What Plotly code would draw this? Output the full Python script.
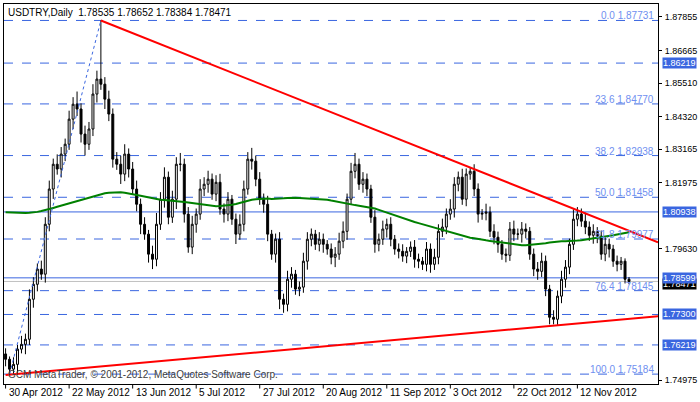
import plotly.graph_objects as go

title_text = "USDTRY,Daily  1.78535 1.78652 1.78384 1.78471"
copyright_text = "GCM MetaTrader, © 2001-2012, MetaQuotes Software Corp."

closes = [1.7571,1.7536,1.7553,1.7607,1.7624,1.7642,1.7784,1.7837,1.7891,1.7873,
1.8050,1.8175,1.8263,1.8246,1.8299,1.8334,1.8423,1.8476,1.8459,1.8370,
1.8334,1.8388,1.8512,1.8565,1.8547,1.8494,1.8441,1.8281,1.8263,1.8228,
1.8299,1.8246,1.8175,1.8121,1.8050,1.8015,1.7944,1.7926,1.8050,1.8139,
1.8217,1.8075,1.8139,1.8263,1.8263,1.8086,1.7969,1.8050,1.8086,1.8175,
1.8192,1.8210,1.8157,1.8199,1.8104,1.8086,1.8139,1.8068,1.8015,1.8050,
1.8175,1.8281,1.8274,1.8210,1.8139,1.8121,1.8015,1.7944,1.7997,1.7784,
1.7766,1.7855,1.7873,1.7820,1.7827,1.7919,1.7997,1.8015,1.7979,1.7997,
1.7979,1.7962,1.7933,1.7944,1.7990,1.8025,1.8139,1.8238,1.8263,1.8192,
1.8210,1.8175,1.8075,1.7979,1.7997,1.8033,1.8050,1.7997,1.7962,1.7954,
1.7937,1.7954,1.7969,1.7926,1.7919,1.7908,1.7962,1.7908,1.7933,1.8025,
1.8040,1.8086,1.8104,1.8192,1.8217,1.8139,1.8228,1.8238,1.8175,1.8086,
1.8089,1.8093,1.8025,1.8004,1.7979,1.7944,1.7940,1.8033,1.8015,1.8015,
1.8033,1.8025,1.7944,1.7891,1.7883,1.7919,1.7820,1.7720,1.7713,1.7795,
1.7855,1.7898,1.7979,1.8068,1.8086,1.8061,1.8040,1.8011,1.8025,1.8008,
1.7944,1.7979,1.7962,1.7919,1.7908,1.7919,1.7855,1.78471]
first_open = 1.7590
# wick lengths in pips (0.0001)
upper_wick = [20,10,25,15,30,20,35,25,20,30,
25,30,20,35,25,20,30,25,45,20,
30,25,35,30,208,25,30,20,25,30,
35,20,25,30,20,25,15,30,40,25,
35,20,30,25,40,20,25,30,20,35,
25,30,20,25,30,20,25,15,20,35,
30,25,40,20,25,20,30,15,20,25,
20,30,25,15,20,30,25,20,15,25,
20,15,20,25,30,35,20,30,40,20,
25,20,15,25,20,30,20,25,15,20,
25,15,20,25,20,15,25,20,30,25,
30,20,35,25,20,30,20,15,25,20,
15,30,20,25,20,15,20,25,30,20,
25,20,15,20,25,30,20,15,25,20,
30,25,20,35,25,20,30,20,25,15,
20,25,20,15,20,15,10,8]
lower_wick = [25,18,20,30,15,35,20,30,25,20,
30,25,35,20,30,25,20,35,25,30,
40,20,25,30,20,35,25,30,20,35,
25,30,20,25,35,20,30,35,25,20,
30,25,20,35,25,30,20,25,30,20,
25,30,20,25,20,30,25,20,35,20,
25,20,30,25,20,30,25,20,30,35,
30,25,30,20,25,20,30,25,20,25,
30,20,25,35,20,25,30,20,25,20,
30,25,20,30,25,20,30,25,20,25,
20,25,20,30,25,20,25,30,20,25,
20,25,20,30,25,20,25,20,25,30,
20,25,20,25,30,20,25,20,25,20,
30,25,20,25,30,20,25,25,18,20,
25,30,25,20,25,20,25,20,30,25,
20,25,30,20,25,20,15,10]

ma_values = [1.8093,1.8092,1.8091,1.8090,1.8090,1.8090,1.8091,1.8092,1.8094,1.8097,
1.8100,1.8104,1.8108,1.8112,1.8116,1.8120,1.8124,1.8128,1.8132,1.8136,
1.8140,1.8144,1.8148,1.8152,1.8157,1.8160,1.8162,1.8163,1.8164,1.8164,
1.8162,1.8160,1.8157,1.8154,1.8151,1.8148,1.8145,1.8141,1.8139,1.8137,
1.8136,1.8135,1.8133,1.8132,1.8131,1.8129,1.8127,1.8125,1.8122,1.8120,
1.8118,1.8116,1.8114,1.8114,1.8115,1.8116,1.8117,1.8119,1.8122,1.8126,
1.8130,1.8134,1.8137,1.8139,1.8140,1.8141,1.8141,1.8140,1.8140,1.8141,
1.8142,1.8143,1.8144,1.8144,1.8143,1.8142,1.8141,1.8140,1.8140,1.8139,
1.8139,1.8137,1.8134,1.8131,1.8128,1.8125,1.8122,1.8120,1.8118,1.8116,
1.8114,1.8112,1.8110,1.8106,1.8101,1.8096,1.8091,1.8086,1.8081,1.8076,
1.8071,1.8066,1.8062,1.8058,1.8054,1.8050,1.8046,1.8042,1.8038,1.8034,
1.8030,1.8026,1.8022,1.8017,1.8012,1.8008,1.8005,1.8002,1.8000,1.7997,
1.7995,1.7993,1.7991,1.7989,1.7987,1.7985,1.7983,1.7981,1.7979,1.7977,
1.7976,1.7976,1.7977,1.7978,1.7979,1.7981,1.7983,1.7985,1.7987,1.7989,
1.7990,1.7990,1.7990,1.7991,1.7992,1.7993,1.7995,1.7997,1.7999,1.8001,
1.8004,1.8006,1.8008,1.8011,1.8014,1.8016,1.8019,1.8022]

date_tick_index = [0,16,32,48,64,80,96,112,128,144]
date_tick_labels = ["30 Apr 2012","22 May 2012","13 Jun 2012","5 Jul 2012","27 Jul 2012",
                    "20 Aug 2012","11 Sep 2012","3 Oct 2012","22 Oct 2012","12 Nov 2012"]
price_ticks = [1.87855,1.86665,1.85510,1.84320,1.83165,1.81975,1.79630,1.74975]

fib_levels = [0.0,23.6,38.2,50.0,61.8,76.4,100.0]
fib_prices = [1.87731,1.84770,1.82938,1.81458,1.79977,1.78145,1.75184]
dashed_levels = [1.86219,1.77300,1.76219]
solid_levels = [1.80938,1.78599]
bid_price = 1.78471

upper_trend = [(24,1.8773),(164.3,1.7986)]
lower_trend = [(0,1.7515),(164.3,1.7724)]
fib_anchor = [(1,1.75184),(24,1.87731)]

n = len(closes)
x = list(range(n))
opens = [first_open] + closes[:-1]
highs = [max(o,c)+u*1e-4 for o,c,u in zip(opens,closes,upper_wick)]
lows = [min(o,c)-l*1e-4 for o,c,l in zip(opens,closes,lower_wick)]

FONT = "Liberation Sans"
fig = go.Figure()
fig.add_trace(go.Scatter(x=x, y=ma_values, mode="lines", line=dict(color="#008000", width=2),
                         showlegend=False, hoverinfo="skip"))
fig.add_trace(go.Candlestick(x=x, open=opens, high=highs, low=lows, close=closes,
    increasing=dict(line=dict(color="black", width=1), fillcolor="white"),
    decreasing=dict(line=dict(color="black", width=1), fillcolor="black"),
    whiskerwidth=0, showlegend=False, hoverinfo="skip"))

shapes = []
BL = "#3a66e0"
for p in fib_prices + dashed_levels:
    shapes.append(dict(type="line", xref="paper", x0=0, x1=1, yref="y", y0=p, y1=p,
                       line=dict(color=BL, width=1, dash="dash"), layer="below"))
shapes.append(dict(type="line", xref="paper", x0=0, x1=1, yref="y", y0=bid_price, y1=bid_price,
                   line=dict(color="#c0c0c0", width=1), layer="below"))
for p in solid_levels:
    shapes.append(dict(type="line", xref="paper", x0=0, x1=1, yref="y", y0=p, y1=p,
                       line=dict(color=BL, width=1), layer="below"))
for (a, b), col, w, d in [(fib_anchor, BL, 1, "dot"), (upper_trend, "red", 2, "solid"),
                          (lower_trend, "red", 2, "solid")]:
    shapes.append(dict(type="line", xref="x", yref="y", x0=a[0], y0=a[1], x1=b[0], y1=b[1],
                       line=dict(color=col, width=w, dash=d)))
for i in date_tick_index:
    shapes.append(dict(type="line", xref="x", yref="paper", x0=i, x1=i, y0=0, y1=-0.012,
                       line=dict(color="black", width=1)))
fig.update_layout(shapes=shapes)

ann = []
for lv, p in zip(fib_levels, fib_prices):
    ann.append(dict(x=0.997, xref="paper", y=p, yref="y", text=f"{lv:.1f} {p:.5f}",
                    showarrow=False, xanchor="right", yanchor="bottom", yshift=-3,
                    font=dict(family=FONT, size=10, color="#6f8ff0")))
for i, t in zip(date_tick_index, date_tick_labels):
    ann.append(dict(x=i, xref="x", y=0, yref="paper", text=t, showarrow=False,
                    xanchor="left", yanchor="top", xshift=1, yshift=-1,
                    font=dict(family=FONT, size=10, color="black")))
ann.append(dict(x=1, xref="paper", y=bid_price, yref="y", text="1.78471",
                showarrow=False, xanchor="left", xshift=4, yshift=-3, bgcolor="black",
                font=dict(family=FONT, size=9, color="white"), borderpad=0))
for p in dashed_levels + solid_levels:
    ann.append(dict(x=1, xref="paper", y=p, yref="y", text=f"{p:.5f}", showarrow=False,
                    xanchor="left", xshift=4, bgcolor="#3a66e0", borderpad=0,
                    font=dict(family=FONT, size=9, color="white")))
ann.append(dict(x=0.003, xref="paper", y=0.997, yref="paper", text=title_text, showarrow=False,
                xanchor="left", yanchor="top", font=dict(family=FONT, size=10, color="black")))
ann.append(dict(x=0.003, xref="paper", y=0.005, yref="paper", text=copyright_text, showarrow=False,
                xanchor="left", yanchor="bottom", font=dict(family=FONT, size=10, color="#404040")))
fig.update_layout(annotations=ann)

fig.update_layout(
    width=700, height=402, margin=dict(l=3, r=40, t=3, b=18),
    paper_bgcolor="white", plot_bgcolor="white",
    font=dict(family=FONT, size=9, color="black"),
    xaxis=dict(range=[-0.4, 164.3], showgrid=False, zeroline=False, showticklabels=False,
               rangeslider=dict(visible=False), showline=True, linecolor="black", mirror=True,
               ticks=""),
    yaxis=dict(range=[1.74833, 1.88315], side="right", showgrid=False, zeroline=False,
               tickvals=price_ticks, ticktext=[f"{v:.5f}" for v in price_ticks],
               ticks="outside", ticklen=3, tickcolor="black", ticklabelstandoff=1,
               showline=True, linecolor="black", mirror=True,
               tickfont=dict(family=FONT, size=9, color="black")),
)
fig.write_html("out.html", config={"displayModeBar": False},
               post_script="document.body.style.margin='0px';document.body.style.overflow='hidden';")
